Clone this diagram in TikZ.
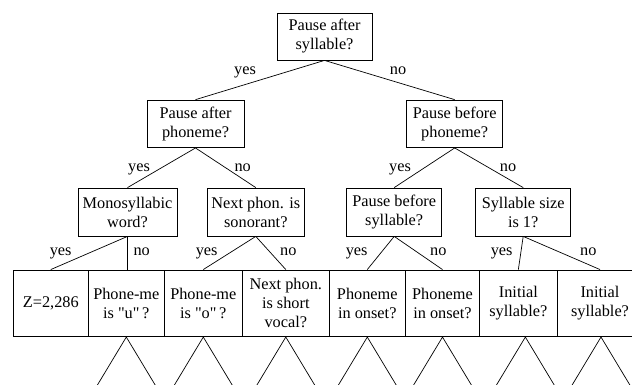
\documentclass[tikz,border=0pt]{standalone}
\usepackage{fontspec}
\setmainfont{Liberation Serif}[Ligatures=TeXOff]
\usetikzlibrary{calc}
\begin{document}
\begin{tikzpicture}[x=1pt,y=-1pt,
  every node/.style={font=\fontsize{16.3}{19}\selectfont},
  box/.style={draw, line width=0.8pt, inner sep=0pt, align=center, minimum height=47.5pt},
  leaf/.style={draw, line width=0.8pt, inner sep=0pt, align=center, minimum height=66.7pt},
  edge/.style={line width=0.7pt},
  lbl/.style={anchor=base, inner sep=0pt}]
\useasboundingbox (0,0) rectangle (632,385);
\clip (0,0) rectangle (632,385);
% decision nodes
\node[box, minimum width=95pt, minimum height=47pt] (r) at (324.5,36.5) {Pause after\\syllable?};
\node[box, minimum width=97pt] (a) at (195.5,123.8) {Pause after\\phoneme?};
\node[box, minimum width=96pt] (b) at (454.7,123.8) {Pause before\\phoneme?};
\node[box, minimum width=99pt, minimum height=48pt] (c) at (127.5,212) {Monosyllabic\\word?};
\node[box, minimum width=96.3pt, minimum height=48pt] (d) at (255.8,212) {Next phon. is\\sonorant?};
\node[box, minimum width=95pt, minimum height=48pt] (e) at (394.2,212) {Pause before\\syllable?};
\node[box, minimum width=95pt, minimum height=48pt] (f) at (523.2,212) {Syllable size\\is 1?};
% leaf row
\node[leaf, minimum width=75pt] (z) at (50.8,303.3) {Z=2,286};
\node[leaf, minimum width=76pt] (u) at (126.3,303.3) {Phone-me\\is "u"\,?};
\node[leaf, minimum width=78pt] (o) at (203.3,303.3) {Phone-me\\is "o"\,?};
\node[leaf, minimum width=87pt] (n) at (285.8,303.3) {Next phon.\\is short\\vocal?};
\node[leaf, minimum width=76pt] (p1) at (367.3,303.3) {Phoneme\\in onset?};
\node[leaf, minimum width=74.4pt] (p2) at (442.5,303.3) {Phoneme\\in onset?};
\node[leaf, minimum width=77.3pt] (i1) at (518.35,303.3) {Initial\\syllable?};
\node[leaf, minimum width=86pt] (i2) at (600,303.3) {Initial\\syllable?};
% connectors
\draw[edge] (r.south) -- (a.north);
\draw[edge] (r.south) -- (b.north);
\draw[edge] (a.south) -- (c.north);
\draw[edge] (a.south) -- (d.north);
\draw[edge] (b.south) -- (e.north);
\draw[edge] (b.south) -- (f.north);
\draw[edge] (c.south) -- (z.north);
\draw[edge] (c.south) -- (c.south |- u.north);
\draw[edge] (d.south) -- (o.north);
\draw[edge] (d.south) -- (n.north);
\draw[edge] (e.south) -- (p1.north);
\draw[edge] (e.south) -- (p2.north);
\draw[edge] (f.south) -- (i1.north);
\draw[edge] (f.south) -- (i2.north);
% subtree triangles
\foreach \n/\dx in {u/0,o/0,n/0,p1/0,p2/0,i1/7,i2/1} {
  \coordinate (\n-top) at ($(\n.south)+(\dx,0)$);
  \coordinate (\n-l) at ($(\n-top)+(-29.5,49)$);
  \coordinate (\n-r) at ($(\n-top)+(29.5,49)$);
  \draw[edge] (\n-l) -- (\n-top) -- (\n-r);
}
% labels
\node[lbl] (y1) at (245,75) {yes};
\node[lbl] (n1) at (398,75) {no};
\node[lbl] (y2) at (139,171.5) {yes};
\node[lbl] (n2) at (242.7,171.5) {no};
\node[lbl] (y3) at (400,171.5) {yes};
\node[lbl] (n3) at (508,171.5) {no};
\node[lbl] (y4) at (60.7,255.5) {yes};
\node[lbl] (n4) at (141.7,255.5) {no};
\node[lbl] (y5) at (206.7,255.5) {yes};
\node[lbl] (n5) at (288.3,255.5) {no};
\node[lbl] (y6) at (356.7,255.5) {yes};
\node[lbl] (n6) at (438.3,255.5) {no};
\node[lbl] (y7) at (501.7,255.5) {yes};
\node[lbl] (n7) at (588.3,255.5) {no};
\end{tikzpicture}
\end{document}
